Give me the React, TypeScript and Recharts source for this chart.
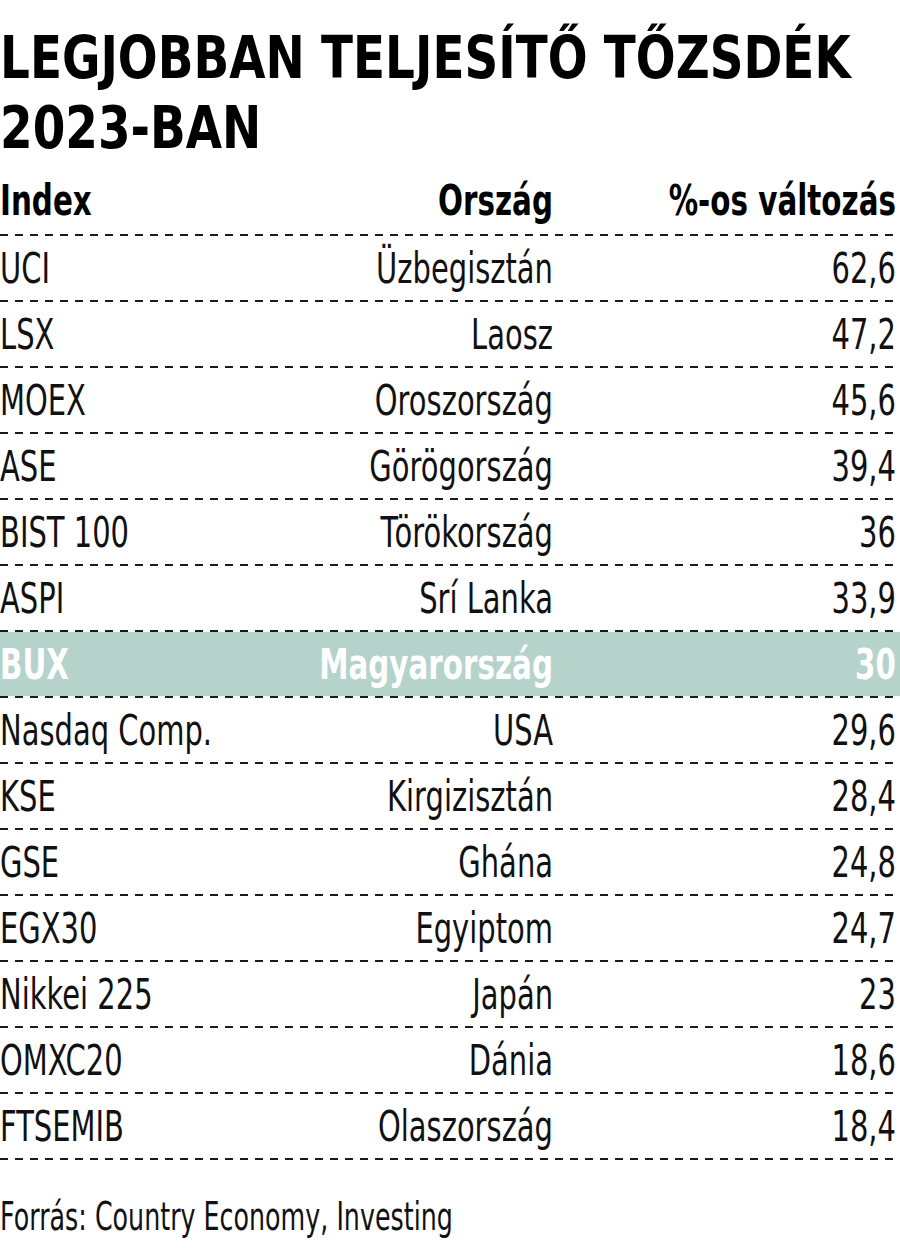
import { Bar, ComposedChart, XAxis, YAxis } from "recharts";

const indices = ["UCI", "LSX", "MOEX", "ASE", "BIST 100", "ASPI", "BUX", "Nasdaq Comp.", "KSE", "GSE", "EGX30", "Nikkei 225", "OMXC20", "FTSEMIB"];
const countries = ["Üzbegisztán", "Laosz", "Oroszország", "Görögország", "Törökország", "Srí Lanka", "Magyarország", "USA", "Kirgizisztán", "Ghána", "Egyiptom", "Japán", "Dánia", "Olaszország"];
const changes = [62.6, 47.2, 45.6, 39.4, 36, 33.9, 30, 29.6, 28.4, 24.8, 24.7, 23, 18.6, 18.4];
const highlighted = "BUX";

const rows = indices.map((index, i) => ({ index, country: countries[i], value: changes[i] }));

// no condensed font installed, so squeeze DejaVu horizontally
const FONT = "'DejaVu Sans', sans-serif";
const SQUEEZE = 0.69;
const SQUEEZE_BOLD = 0.7;
const DASH = "8 7";
const LINE = "#1a1a1a";

const fmt = (v: number) => String(v).replace(".", ",");

function T({ x, y, size, bold, anchor, fill, sx, children }: any) {
  return (
    <text
      transform={`translate(${x} ${y}) scale(${sx ?? (bold ? SQUEEZE_BOLD : SQUEEZE)} 1)`}
      fontSize={size}
      fontFamily={FONT}
      fontWeight={bold ? 700 : 400}
      fill={fill ?? "#111"}
      textAnchor={anchor ?? "start"}
    >
      {children}
    </text>
  );
}

function Row(props: any) {
  const { y, height, payload } = props;
  const hl = payload.index === highlighted;
  const color = hl ? "#fff" : "#111";
  const base = y + 48;
  return (
    <g>
      {hl && <rect x={0} y={y + 1} width={900} height={height - 2} fill="#b5d3cb" />}
      <T x={0} y={base} size={42} bold={hl} fill={color}>{payload.index}</T>
      <T x={553} y={base} size={42} bold={hl} fill={color} anchor="end">{payload.country}</T>
      <T x={896} y={base} size={42} bold={hl} fill={color} anchor="end">{fmt(payload.value)}</T>
      <line x1={0} x2={900} y1={y + height} y2={y + height} stroke={LINE} strokeWidth={1.8} strokeDasharray={DASH} />
    </g>
  );
}

export default function App() {
  return (
    <div style={{ position: "absolute", left: 0, top: 0, width: 900, height: 1248, background: "#fff", overflow: "hidden" }}>
      <svg width={900} height={1248} style={{ position: "absolute", left: 0, top: 0 }}>
        <T x={0} y={78} size={59} bold fill="#000" sx={0.795}>LEGJOBBAN TELJESÍTŐ TŐZSDÉK</T>
        <T x={0} y={148} size={59} bold fill="#000" sx={0.795}>2023-BAN</T>
        <T x={0} y={215} size={42} bold fill="#000">Index</T>
        <T x={553} y={215} size={42} bold fill="#000" anchor="end">Ország</T>
        <T x={896} y={215} size={42} bold fill="#000" anchor="end">%-os változás</T>
        <line x1={0} x2={900} y1={235} y2={235} stroke={LINE} strokeWidth={1.8} strokeDasharray={DASH} />
        <T x={0} y={1230} size={39} sx={0.65}>Forrás: Country Economy, Investing</T>
      </svg>
      <div style={{ position: "absolute", left: 0, top: 0 }}>
        <ComposedChart
          width={900}
          height={1248}
          data={rows}
          layout="vertical"
          margin={{ top: 235, right: 0, bottom: 89, left: 0 }}
          barCategoryGap={0}
        >
          <XAxis type="number" hide domain={[0, 70]} />
          <YAxis type="category" dataKey="index" hide />
          <Bar dataKey="value" shape={(p: any) => <Row {...p} />} isAnimationActive={false} />
        </ComposedChart>
      </div>
    </div>
  );
}
